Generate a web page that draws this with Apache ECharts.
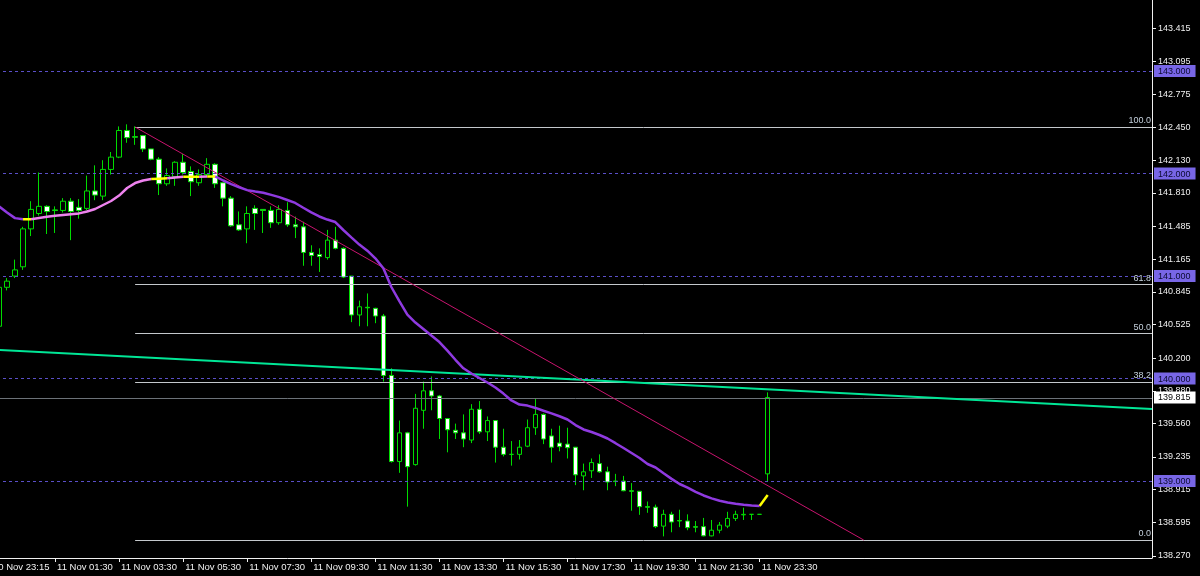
<!DOCTYPE html>
<html>
<head>
<meta charset="utf-8">
<script src="https://cdn.jsdelivr.net/npm/echarts@6/dist/echarts.min.js"></script>
<style>
html,body{margin:0;padding:0;background:#000;}
#chart{width:1200px;height:576px;}
</style>
</head>
<body>
<div id="chart"></div>
<script>
// ---- data (candle k = 0..96, 15-minute bars) ----
const opens = [140.51,140.89,141.00,141.09,141.46,141.61,141.68,141.645,141.64,141.73,141.67,141.66,141.83,141.78,142.04,142.16,142.42,142.36,142.37,142.24,142.14,141.90,141.97,142.11,142.02,141.91,141.99,142.09,141.91,141.76,141.50,141.46,141.66,141.65,141.64,141.52,141.64,141.50,141.48,141.23,141.21,141.18,141.35,141.27,141.00,140.62,140.695,140.685,140.61,140.03,139.19,139.47,139.16,139.69,139.88,139.83,139.61,139.495,139.47,139.40,139.70,139.48,139.59,139.33,139.26,139.26,139.34,139.52,139.65,139.44,139.37,139.36,139.33,139.05,139.10,139.17,139.09,139.00,139.00,138.905,138.90,138.75,138.745,138.56,138.675,138.615,138.61,138.555,138.555,138.465,138.52,138.56,138.635,138.67,138.675,138.675,139.07];
const highs = [140.90,140.98,141.16,141.48,141.73,142.01,141.69,141.68,141.76,141.76,141.75,141.98,142.08,142.13,142.21,142.46,142.48,142.46,142.37,142.24,142.16,142.05,142.12,142.19,142.07,142.04,142.15,142.10,141.91,141.78,141.63,141.68,141.69,141.65,141.68,141.69,141.72,141.58,141.53,141.30,141.27,141.45,141.48,141.28,141.00,140.76,140.83,140.69,140.63,140.10,139.59,139.48,139.85,139.97,140.02,139.84,139.61,139.56,139.65,139.75,139.78,139.63,139.59,139.51,139.39,139.40,139.60,139.80,139.66,139.51,139.54,139.52,139.33,139.17,139.22,139.26,139.14,139.07,139.05,138.98,138.90,138.80,138.77,138.72,138.70,138.72,138.675,138.61,138.64,138.62,138.60,138.70,138.71,138.74,138.675,138.675,139.865];
const lows = [140.49,140.86,140.98,141.06,141.39,141.59,141.41,141.42,141.62,141.35,141.56,141.64,141.74,141.74,141.99,142.15,142.30,142.28,142.21,142.13,141.79,141.88,141.88,141.99,141.78,141.88,141.97,141.86,141.68,141.48,141.44,141.32,141.45,141.42,141.47,141.50,141.48,141.37,141.10,141.10,141.04,141.16,141.26,140.98,140.55,140.51,140.51,140.54,139.97,139.18,139.08,138.75,139.15,139.51,139.69,139.41,139.28,139.41,139.33,139.37,139.46,139.39,139.18,139.24,139.15,139.21,139.33,139.45,139.36,139.18,139.29,139.22,138.96,138.91,139.03,139.08,138.91,138.95,138.90,138.71,138.67,138.69,138.54,138.46,138.50,138.55,138.52,138.50,138.46,138.46,138.49,138.54,138.61,138.62,138.62,138.675,138.99];
const closes = [140.89,140.95,141.06,141.46,141.65,141.68,141.63,141.64,141.73,141.63,141.64,141.83,141.79,142.04,142.16,142.42,142.35,142.355,142.24,142.14,141.90,141.98,142.11,142.01,141.92,141.99,142.09,141.90,141.76,141.49,141.45,141.61,141.61,141.64,141.52,141.65,141.50,141.48,141.23,141.20,141.19,141.35,141.27,140.99,140.62,140.70,140.69,140.61,140.03,139.19,139.47,139.14,139.71,139.88,139.83,139.61,139.50,139.47,139.41,139.70,139.48,139.59,139.33,139.26,139.26,139.33,139.52,139.65,139.41,139.33,139.335,139.325,139.06,139.09,139.18,139.09,138.99,138.995,138.905,138.90,138.75,138.745,138.555,138.675,138.60,138.61,138.545,138.55,138.465,138.52,138.57,138.635,138.675,138.675,138.675,138.675,139.815];
// moving average, one value per candle
const maValues = [141.680,141.620,141.565,141.553,141.553,141.566,141.578,141.587,141.595,141.603,141.611,141.629,141.654,141.693,141.732,141.785,141.859,141.907,141.932,141.946,141.950,141.953,141.961,141.969,141.969,141.969,141.972,141.972,141.932,141.896,141.866,141.838,141.824,141.812,141.792,141.770,141.742,141.713,141.666,141.621,141.581,141.551,141.527,141.449,141.377,141.307,141.247,141.173,141.075,140.893,140.756,140.624,140.546,140.483,140.419,140.356,140.272,140.183,140.100,140.049,140.005,139.961,139.912,139.853,139.786,139.746,139.736,139.713,139.686,139.660,139.632,139.600,139.546,139.503,139.478,139.449,139.415,139.369,139.322,139.273,139.224,139.166,139.132,139.076,139.021,138.971,138.936,138.895,138.859,138.831,138.807,138.790,138.779,138.769,138.762,138.756,138.863];
// colour state of the moving average between candle indices [from, to]
const maStates = [[0,3,'down'],[3,4,'flat'],[4,19,'up'],[19,21,'flat'],[21,23,'up'],[23,25,'flat'],[25,26,'up'],[26,27,'flat'],[27,95,'down'],[95,96,'flat']];
// price levels
const roundLevels = [143, 142, 141, 140, 139];
const bidPrice = 139.815;
const fibNames = ['0.0', '38.2', '50.0', '61.8', '100.0'];
const fibValues = [138.424, 139.963, 140.439, 140.915, 142.454];
const fibStartCandle = 17;
const trendFrom = [17, 142.454];
const trendTo = [108, 138.424];
const channelFrom = [-1, 140.282];
const channelTo = [144, 139.702];
const yTickValues = [143.415,143.095,142.775,142.450,142.130,141.810,141.485,141.165,140.845,140.525,140.200,139.880,139.560,139.235,138.915,138.595,138.270];
const yMin = 138.249, yMax = 143.693;
const firstLabel = '10 Nov 23:15';
const lastVisibleCandle = 144;

// categories: index 0 = candle -1 (the cut-off first label), index i = candle i-1
const categories = [firstLabel];
for (let k = 0; k <= lastVisibleCandle; k++) {
  const m = 23 * 60 + 45 + 15 * k;
  const day = 10 + Math.floor(m / 1440);
  const mm = m % 1440;
  const hh = String(Math.floor(mm / 60)).padStart(2, '0');
  const mi = String(mm % 60).padStart(2, '0');
  categories.push(day + ' Nov ' + hh + ':' + mi);
}
const idx = k => k + 1;
const lastCandleIdx = idx(opens.length - 1);

const candleData = opens.map((o, k) => [idx(k), o, closes[k], lows[k], highs[k]]);

const GREEN = '#00dc00';
const stateColor = { up: '#ee82ee', down: '#8f3ae0', flat: '#ffff00' };
const maSeries = maStates.map(([a, b, s]) => ({
  type: 'line', silent: true, symbol: 'none', z: 6,
  data: maValues.slice(a, b + 1).map((v, j) => [idx(a + j), v]),
  lineStyle: { color: stateColor[s], width: 2.5 }
}));

const labelShown = i => i % 8 === 0 && i <= lastCandleIdx;
const fontFam = '"Liberation Sans", Arial, sans-serif';

const option = {
  backgroundColor: '#000',
  animation: false,
  grid: { left: -9, right: 48, top: 0, bottom: 18, containLabel: false, outerBoundsMode: 'none' },
  xAxis: {
    type: 'category', data: categories, boundaryGap: false,
    axisLine: { lineStyle: { color: '#f0f0f0', width: 1 } },
    axisTick: { show: true, interval: labelShown, length: 4, lineStyle: { color: '#f0f0f0' } },
    axisLabel: { interval: labelShown, align: 'left', margin: 4, color: '#f0f0f0', fontSize: 9.5, fontFamily: fontFam, padding: [0, 0, 0, 2], hideOverlap: false },
    splitLine: { show: false }
  },
  yAxis: [{
    type: 'value', position: 'right', min: yMin, max: yMax, scale: true,
    axisLine: { show: true, lineStyle: { color: '#f0f0f0' } },
    axisTick: { show: true, customValues: yTickValues, length: 4, lineStyle: { color: '#f0f0f0' } },
    axisLabel: { customValues: yTickValues, formatter: v => v.toFixed(3), margin: 6, color: '#f0f0f0', fontSize: 9, fontFamily: fontFam },
    splitLine: { show: false }
  }, {
    type: 'value', position: 'right', min: yMin, max: yMax, scale: true, z: 3,
    axisLine: { show: false }, axisTick: { show: false }, splitLine: { show: false },
    axisLabel: {
      customValues: roundLevels.concat([bidPrice]), margin: 2, fontSize: 9, fontFamily: fontFam,
      formatter: v => (Math.abs(v - bidPrice) < 1e-6 ? '{w|' : '{p|') + v.toFixed(3) + '}',
      rich: {
        p: { backgroundColor: '#7866e6', color: '#0a0a30', padding: [2, 5, 1, 4], fontSize: 9, fontFamily: fontFam },
        w: { backgroundColor: '#ffffff', color: '#000000', padding: [2, 5, 1, 4], fontSize: 9, fontFamily: fontFam }
      }
    }
  }],
  series: [
    {
      type: 'line', silent: true, symbol: 'none', z: 1, data: [],
      markLine: {
        silent: true, symbol: 'none', animation: false,
        data: roundLevels.map(v => ({ yAxis: v, lineStyle: { color: '#5a4fc8', type: [3, 3], width: 1 }, label: { show: false } }))
          .concat([{ yAxis: bidPrice, lineStyle: { color: '#6c7278', type: 'solid', width: 1 }, label: { show: false } }])
          .concat(fibValues.map((v, j) => [
            { coord: [idx(fibStartCandle), v], lineStyle: { color: '#c4c8cc', type: 'solid', width: 1 },
              label: { show: true, position: 'insideEndTop', formatter: fibNames[j], color: '#c4d0dc', fontSize: 9, fontFamily: fontFam, distance: [1, 2] } },
            { coord: [idx(lastVisibleCandle), v] }
          ]))
      }
    },
    {
      type: 'candlestick', z: 3, silent: true, barWidth: 5,
      encode: { x: 0, y: [1, 2, 3, 4] },
      data: candleData,
      itemStyle: { color: '#000000', color0: '#ffffff', borderColor: GREEN, borderColor0: GREEN, borderColorDoji: GREEN, borderWidth: 1 }
    },
    {
      type: 'line', silent: true, symbol: 'none', z: 5,
      data: [[idx(channelFrom[0]), channelFrom[1]], [idx(channelTo[0]), channelTo[1]]],
      lineStyle: { color: '#00e696', width: 2 }
    },
    {
      type: 'line', silent: true, symbol: 'none', z: 5,
      data: [[idx(trendFrom[0]), trendFrom[1]], [idx(trendTo[0]), trendTo[1]]],
      lineStyle: { color: '#c8146e', width: 1 }
    }
  ].concat(maSeries)
};

const chart = echarts.init(document.getElementById('chart'), null, { renderer: 'canvas' });
chart.setOption(option);
</script>
</body>
</html>
